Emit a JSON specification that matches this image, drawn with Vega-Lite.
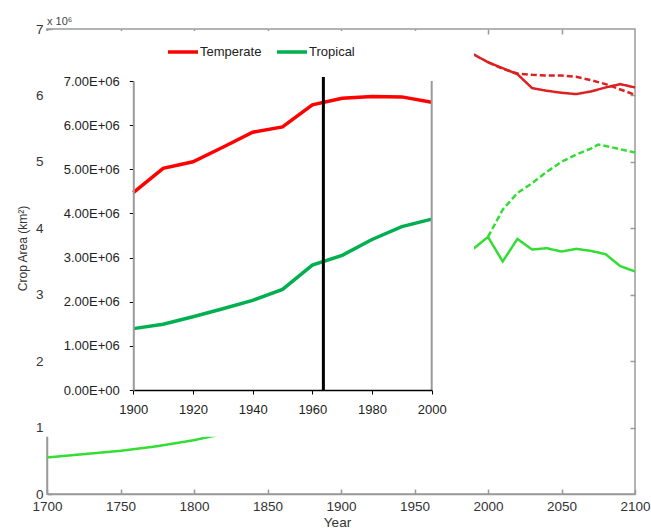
{
  "$schema": "https://vega.github.io/schema/vega-lite/v6.json",
  "width": 588,
  "height": 465,
  "autosize": "none",
  "padding": {"left": 47, "top": 29, "right": 16, "bottom": 35},
  "config": {
    "font": "Liberation Sans",
    "view": {"stroke": "#9a9a9a", "strokeWidth": 1.5},
    "axis": {"grid": false}
  },
  "datasets": {
    "main": [
      {"year": 1700, "area": 0.55, "region": "Tropical", "scenario": "Scenario 1"},
      {"year": 1725, "area": 0.60, "region": "Tropical", "scenario": "Scenario 1"},
      {"year": 1750, "area": 0.65, "region": "Tropical", "scenario": "Scenario 1"},
      {"year": 1775, "area": 0.72, "region": "Tropical", "scenario": "Scenario 1"},
      {"year": 1800, "area": 0.81, "region": "Tropical", "scenario": "Scenario 1"},
      {"year": 1825, "area": 0.93, "region": "Tropical", "scenario": "Scenario 1"},
      {"year": 1900, "area": 1.39, "region": "Tropical", "scenario": "Scenario 1"},
      {"year": 1910, "area": 1.49, "region": "Tropical", "scenario": "Scenario 1"},
      {"year": 1920, "area": 1.66, "region": "Tropical", "scenario": "Scenario 1"},
      {"year": 1930, "area": 1.84, "region": "Tropical", "scenario": "Scenario 1"},
      {"year": 1940, "area": 2.03, "region": "Tropical", "scenario": "Scenario 1"},
      {"year": 1950, "area": 2.28, "region": "Tropical", "scenario": "Scenario 1"},
      {"year": 1960, "area": 2.83, "region": "Tropical", "scenario": "Scenario 1"},
      {"year": 1970, "area": 3.05, "region": "Tropical", "scenario": "Scenario 1"},
      {"year": 1980, "area": 3.41, "region": "Tropical", "scenario": "Scenario 1"},
      {"year": 1990, "area": 3.69, "region": "Tropical", "scenario": "Scenario 1"},
      {"year": 2000, "area": 3.87, "region": "Tropical", "scenario": "Scenario 1"},
      {"year": 2010, "area": 3.50, "region": "Tropical", "scenario": "Scenario 1"},
      {"year": 2020, "area": 3.84, "region": "Tropical", "scenario": "Scenario 1"},
      {"year": 2030, "area": 3.68, "region": "Tropical", "scenario": "Scenario 1"},
      {"year": 2040, "area": 3.70, "region": "Tropical", "scenario": "Scenario 1"},
      {"year": 2050, "area": 3.65, "region": "Tropical", "scenario": "Scenario 1"},
      {"year": 2060, "area": 3.69, "region": "Tropical", "scenario": "Scenario 1"},
      {"year": 2070, "area": 3.66, "region": "Tropical", "scenario": "Scenario 1"},
      {"year": 2080, "area": 3.61, "region": "Tropical", "scenario": "Scenario 1"},
      {"year": 2090, "area": 3.43, "region": "Tropical", "scenario": "Scenario 1"},
      {"year": 2100, "area": 3.35, "region": "Tropical", "scenario": "Scenario 1"},
      {"year": 2000, "area": 3.87, "region": "Tropical", "scenario": "Scenario 2"},
      {"year": 2010, "area": 4.28, "region": "Tropical", "scenario": "Scenario 2"},
      {"year": 2020, "area": 4.53, "region": "Tropical", "scenario": "Scenario 2"},
      {"year": 2030, "area": 4.68, "region": "Tropical", "scenario": "Scenario 2"},
      {"year": 2040, "area": 4.85, "region": "Tropical", "scenario": "Scenario 2"},
      {"year": 2050, "area": 5.00, "region": "Tropical", "scenario": "Scenario 2"},
      {"year": 2060, "area": 5.11, "region": "Tropical", "scenario": "Scenario 2"},
      {"year": 2070, "area": 5.20, "region": "Tropical", "scenario": "Scenario 2"},
      {"year": 2075, "area": 5.26, "region": "Tropical", "scenario": "Scenario 2"},
      {"year": 2080, "area": 5.24, "region": "Tropical", "scenario": "Scenario 2"},
      {"year": 2090, "area": 5.19, "region": "Tropical", "scenario": "Scenario 2"},
      {"year": 2100, "area": 5.14, "region": "Tropical", "scenario": "Scenario 2"},
      {"year": 1900, "area": 4.47, "region": "Temperate", "scenario": "Scenario 1"},
      {"year": 1910, "area": 5.02, "region": "Temperate", "scenario": "Scenario 1"},
      {"year": 1920, "area": 5.17, "region": "Temperate", "scenario": "Scenario 1"},
      {"year": 1930, "area": 5.50, "region": "Temperate", "scenario": "Scenario 1"},
      {"year": 1940, "area": 5.84, "region": "Temperate", "scenario": "Scenario 1"},
      {"year": 1950, "area": 5.96, "region": "Temperate", "scenario": "Scenario 1"},
      {"year": 1960, "area": 6.46, "region": "Temperate", "scenario": "Scenario 1"},
      {"year": 1970, "area": 6.61, "region": "Temperate", "scenario": "Scenario 1"},
      {"year": 1980, "area": 6.65, "region": "Temperate", "scenario": "Scenario 1"},
      {"year": 1990, "area": 6.62, "region": "Temperate", "scenario": "Scenario 1"},
      {"year": 2000, "area": 6.50, "region": "Temperate", "scenario": "Scenario 1"},
      {"year": 2010, "area": 6.41, "region": "Temperate", "scenario": "Scenario 1"},
      {"year": 2020, "area": 6.32, "region": "Temperate", "scenario": "Scenario 1"},
      {"year": 2030, "area": 6.11, "region": "Temperate", "scenario": "Scenario 1"},
      {"year": 2040, "area": 6.07, "region": "Temperate", "scenario": "Scenario 1"},
      {"year": 2050, "area": 6.04, "region": "Temperate", "scenario": "Scenario 1"},
      {"year": 2060, "area": 6.02, "region": "Temperate", "scenario": "Scenario 1"},
      {"year": 2070, "area": 6.06, "region": "Temperate", "scenario": "Scenario 1"},
      {"year": 2080, "area": 6.12, "region": "Temperate", "scenario": "Scenario 1"},
      {"year": 2090, "area": 6.17, "region": "Temperate", "scenario": "Scenario 1"},
      {"year": 2100, "area": 6.12, "region": "Temperate", "scenario": "Scenario 1"},
      {"year": 2000, "area": 6.50, "region": "Temperate", "scenario": "Scenario 2"},
      {"year": 2010, "area": 6.40, "region": "Temperate", "scenario": "Scenario 2"},
      {"year": 2020, "area": 6.33, "region": "Temperate", "scenario": "Scenario 2"},
      {"year": 2030, "area": 6.31, "region": "Temperate", "scenario": "Scenario 2"},
      {"year": 2040, "area": 6.30, "region": "Temperate", "scenario": "Scenario 2"},
      {"year": 2050, "area": 6.30, "region": "Temperate", "scenario": "Scenario 2"},
      {"year": 2060, "area": 6.28, "region": "Temperate", "scenario": "Scenario 2"},
      {"year": 2070, "area": 6.23, "region": "Temperate", "scenario": "Scenario 2"},
      {"year": 2080, "area": 6.17, "region": "Temperate", "scenario": "Scenario 2"},
      {"year": 2090, "area": 6.09, "region": "Temperate", "scenario": "Scenario 2"},
      {"year": 2100, "area": 6.01, "region": "Temperate", "scenario": "Scenario 2"}
    ],
    "inset": [
      {"iyear": 1900, "iarea": 4470000, "region": "Temperate"},
      {"iyear": 1910, "iarea": 5020000, "region": "Temperate"},
      {"iyear": 1920, "iarea": 5170000, "region": "Temperate"},
      {"iyear": 1930, "iarea": 5500000, "region": "Temperate"},
      {"iyear": 1940, "iarea": 5840000, "region": "Temperate"},
      {"iyear": 1950, "iarea": 5960000, "region": "Temperate"},
      {"iyear": 1960, "iarea": 6460000, "region": "Temperate"},
      {"iyear": 1970, "iarea": 6610000, "region": "Temperate"},
      {"iyear": 1980, "iarea": 6650000, "region": "Temperate"},
      {"iyear": 1990, "iarea": 6640000, "region": "Temperate"},
      {"iyear": 2000, "iarea": 6520000, "region": "Temperate"},
      {"iyear": 1900, "iarea": 1390000, "region": "Tropical"},
      {"iyear": 1910, "iarea": 1490000, "region": "Tropical"},
      {"iyear": 1920, "iarea": 1660000, "region": "Tropical"},
      {"iyear": 1930, "iarea": 1840000, "region": "Tropical"},
      {"iyear": 1940, "iarea": 2030000, "region": "Tropical"},
      {"iyear": 1950, "iarea": 2280000, "region": "Tropical"},
      {"iyear": 1960, "iarea": 2830000, "region": "Tropical"},
      {"iyear": 1970, "iarea": 3050000, "region": "Tropical"},
      {"iyear": 1980, "iarea": 3410000, "region": "Tropical"},
      {"iyear": 1990, "iarea": 3700000, "region": "Tropical"},
      {"iyear": 2000, "iarea": 3870000, "region": "Tropical"}
    ]
  },
  "layer": [
    {
      "resolve": {"axis": {"x": "independent", "y": "independent"}},
      "layer": [
        {
          "data": {"name": "main"},
          "mark": {"type": "line", "strokeWidth": 2.5},
          "encoding": {
            "x": {"field": "year", "type": "quantitative",
              "scale": {"domain": [1700, 2100], "nice": false, "zero": false},
              "axis": {"orient": "bottom", "values": [1700, 1750, 1800, 1850, 1900, 1950, 2000, 2050, 2100], "format": "d",
                "tickSize": -5, "tickColor": "#9a9a9a", "tickWidth": 1.5, "domainColor": "#9a9a9a", "domainWidth": 1.5,
                "labelPadding": 10, "labelFontSize": 13.5, "labelColor": "#333333", "labelFlush": false,
                "title": "Year", "titleFontSize": 13.5, "titleFontWeight": "normal", "titleColor": "#333333",
                "titleBaseline": "alphabetic", "titleY": 32, "titleX": 290, "zindex": 0}},
            "y": {"field": "area", "type": "quantitative",
              "scale": {"domain": [0, 7], "nice": false, "zero": true},
              "axis": {"orient": "left", "values": [0, 1, 2, 3, 4, 5, 6, 7],
                "tickSize": -5, "tickColor": "#9a9a9a", "tickWidth": 1.5, "domainColor": "#9a9a9a", "domainWidth": 1.5,
                "labelPadding": 9, "labelFontSize": 13.5, "labelColor": "#333333", "labelFlush": false,
                "title": "Crop Area (km²)", "titleFontSize": 12, "titleFontWeight": "normal", "titleColor": "#333333",
                "titleX": -25, "titleY": 219, "titleBaseline": "middle", "titleAlign": "center", "zindex": 0}},
            "color": {"field": "region", "type": "nominal",
              "scale": {"domain": ["Temperate", "Tropical"], "range": ["#dd2020", "#33dd33"]}, "legend": null},
            "strokeDash": {"field": "scenario", "type": "nominal",
              "scale": {"domain": ["Scenario 1", "Scenario 2"], "range": [[1, 0], [6, 3]]}, "legend": null}
          }
        },
        {
          "data": {"values": [{}]},
          "mark": {"type": "rect", "fill": "white", "stroke": null},
          "encoding": {
            "x": {"datum": 1698, "type": "quantitative",
              "scale": {"domain": [1700, 2100], "nice": false, "zero": false},
              "axis": {"orient": "top", "values": [1750, 1800, 1850, 1900, 1950, 2000, 2050], "labels": false, "domain": false,
                "tickSize": -5, "tickColor": "#9a9a9a", "tickWidth": 1.5, "title": null, "zindex": 0}},
            "x2": {"datum": 1990.5},
            "y": {"datum": 0.86, "type": "quantitative",
              "scale": {"domain": [0, 7], "nice": false, "zero": true},
              "axis": {"orient": "right", "values": [1, 2, 3, 4, 5, 6], "labels": false, "domain": false,
                "tickSize": -5, "tickColor": "#9a9a9a", "tickWidth": 1.5, "title": null, "zindex": 0}},
            "y2": {"datum": 6.97}
          }
        },
        {
          "data": {"values": [{}]},
          "mark": {"type": "text", "text": "x 10⁶", "align": "left", "baseline": "alphabetic", "dy": -4, "fontSize": 11, "color": "#444444"},
          "encoding": {
            "x": {"datum": 1700, "type": "quantitative", "axis": null},
            "y": {"datum": 7, "type": "quantitative", "axis": null}
          }
        }
      ]
    },
    {
      "layer": [
        {
          "data": {"name": "inset"},
          "mark": {"type": "line", "strokeWidth": 3.5},
          "encoding": {
            "x": {"field": "iyear", "type": "quantitative",
              "scale": {"domain": [1900, 2000], "range": [86.3, 384.7], "nice": false, "zero": false},
              "axis": {"orient": "bottom", "offset": -104, "values": [1900, 1920, 1940, 1960, 1980, 2000], "format": "d",
                "tickSize": 4, "tickColor": "#000000", "domainColor": "#000000", "domainWidth": 1.5,
                "labelPadding": 9, "labelFontSize": 13, "labelColor": "#222222", "labelFlush": false, "title": null, "zindex": 1}},
            "y": {"field": "iarea", "type": "quantitative",
              "scale": {"domain": [0, 7000000], "range": [361, 52], "nice": false, "zero": true},
              "axis": {"orient": "left", "offset": -86.3, "values": [0, 1000000, 2000000, 3000000, 4000000, 5000000, 6000000, 7000000],
                "labelExpr": "datum.value == 0 ? '0.00E+00' : format(datum.value / 1000000, '.2f') + 'E+06'",
                "tickSize": 4, "tickColor": "#000000", "domainColor": "#9a9a9a", "domainWidth": 2,
                "labelPadding": 10, "labelFontSize": 13, "labelColor": "#222222", "labelFlush": false, "title": null, "zindex": 1}},
            "color": {"field": "region", "type": "nominal",
              "scale": {"domain": ["Temperate", "Tropical"], "range": ["#ff0000", "#00b050"]},
              "legend": {"orient": "none", "legendX": 119, "legendY": 6, "direction": "horizontal", "title": null,
                "symbolType": "stroke", "symbolSize": 900, "symbolStrokeWidth": 3.5,
                "labelFontSize": 13, "labelColor": "#222222", "labelOffset": 0, "columnPadding": 8}}
          }
        },
        {
          "data": {"values": [{}]},
          "mark": {"type": "rule", "color": "#000000", "strokeWidth": 3},
          "encoding": {
            "x": {"datum": 1963.7, "type": "quantitative", "scale": {"domain": [1900, 2000], "range": [86.3, 384.7], "nice": false, "zero": false}},
            "y": {"datum": 0, "type": "quantitative", "scale": {"domain": [0, 7000000], "range": [361, 52], "nice": false, "zero": true}},
            "y2": {"datum": 7090000}
          }
        },
        {
          "data": {"values": [{}]},
          "mark": {"type": "rule", "color": "#9a9a9a", "strokeWidth": 2},
          "encoding": {
            "x": {"datum": 2000, "type": "quantitative"},
            "y": {"datum": 0, "type": "quantitative"},
            "y2": {"datum": 7000000}
          }
        }
      ]
    }
  ],
  "resolve": {"scale": {"x": "independent", "y": "independent", "color": "independent", "strokeDash": "independent"}}
}
